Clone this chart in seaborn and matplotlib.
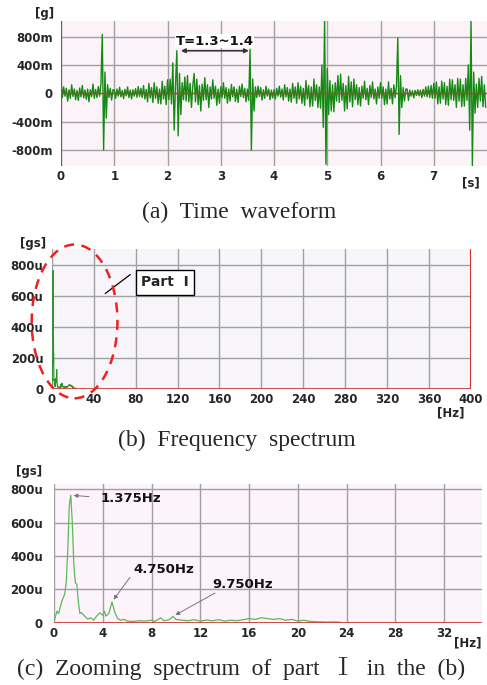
import matplotlib
matplotlib.use("Agg")
import matplotlib.pyplot as plt
import seaborn as sns
import pandas as pd
from matplotlib.patches import Ellipse

# (a) time waveform, one sample every 0.025 s, values in mg
wave_dt = 0.025
wave_mg = [
    180, -60, 90, -40, 70, -110, 50, -70, 120, -45, 60, -90, 40, -100, 75, -50, 110, -65, 45, -85,
    60, -120, 50, -45, 130, -70, 55, -60, 95, -40, 140, 830, -800, 300, -350, 120, -60, 70, -95, 50,
    45, -70, 60, -40, 85, -50, 40, -75, 55, -35, 90, -60, 45, -80, 50, -40, 65, -55, 95, -45,
    70, -60, 110, -80, 55, -120, 140, -65, 80, -130, 150, -70, 90, -140, 60, -150, 170, -80, 100, -160,
    190, -90, 200, -150, 430, -520, 120, 600, -600, 280, -300, 150, -90, 230, -110, 250, -120, 140, -200, 110,
    280, -120, 200, -160, 110, -250, 130, -100, 220, -90, 120, -200, 90, -80, 190, -70, 100, -170, 60, -140,
    90, -60, 150, -70, 80, -140, 60, -110, 125, -50, 90, -115, 55, -130, 100, -45, 130, -60, 70, -120,
    60, -100, 620, -800, 200, -250, 90, -60, 100, -45, 80, -95, 50, -70, 100, -40, 60, -90, 45, -65,
    50, -80, 70, -40, 100, -55, 60, -95, 120, -50, 80, -110, 60, -125, 140, -70, 90, -140, 150, -80,
    100, -140, 70, -170, 180, -80, 110, -190, 90, -180, 200, -100, 120, -200, 90, -210, 400, -480, 1020, -1000,
    350, -300, 180, -250, 120, -260, 150, -110, 250, -130, 270, -100, 140, -250, 110, -220, 240, -120, 160, -190,
    200, -90, 120, -160, 80, -180, 100, -70, 170, -90, 70, -160, 110, -60, 160, -80, 60, -150, 90, -70,
    150, -70, 90, -160, 60, -150, 160, -80, 70, -150, 120, -60, 100, 780, -580, 250, -200, 80, -110, 60,
    60, -100, 45, -40, 35, -65, 40, -30, 50, -35, 45, -60, 55, -40, 90, -50, 100, -60, 110, -70,
    140, -70, 160, -150, 90, -140, 170, -80, 150, -160, 100, -170, 200, -90, 190, -100, 120, -200, 210, -110,
    200, -190, 120, -180, 210, -100, 400, -520, 1020, -1020, 300, -280, 130, -200, 210, -110, 240, -190, 120, -200,
]
wave_time = [i * wave_dt for i in range(len(wave_mg))]

# spectrum (u gs)
spec_hz = [0, 0.125, 0.25, 0.375, 0.5, 0.625, 0.75, 0.875, 1.0, 1.125, 1.25, 1.375, 1.5, 1.625,
           1.75, 1.875, 2.0, 2.125, 2.25, 2.5, 2.75, 3.0, 3.25, 3.5, 3.75, 4.0, 4.125, 4.25, 4.5,
           4.75, 5.0, 5.25, 5.5, 5.75, 6.0, 6.5, 7.0, 7.5, 8.0, 8.25, 8.5, 8.75, 9.0, 9.25, 9.5,
           9.75, 10.0, 10.5, 11.0, 11.5, 12.0, 12.5, 13.0, 13.5, 14.0, 14.5, 15.0, 15.5, 16.0,
           16.5, 17.0, 17.5, 18.0, 18.5, 19.0, 19.5, 20.0, 20.5, 21.0, 21.5, 22.0, 22.5, 23.0, 23.5]
spec_u = [10, 40, 70, 55, 90, 125, 150, 170, 240, 430, 700, 765, 600, 350,
          240, 230, 120, 55, 60, 40, 22, 30, 15, 40, 60, 45, 70, 40, 55,
          125, 60, 22, 15, 20, 10, 8, 12, 10, 15, 8, 18, 30, 12, 15, 20,
          38, 20, 15, 12, 18, 10, 16, 12, 18, 10, 15, 12, 18, 25,
          20, 30, 25, 20, 25, 15, 20, 10, 15, 8, 6, 5, 4, 5, 3]

peak_hz = [1.375, 4.750, 9.750]
peak_u = [765, 125, 38]
peak_labels = ["1.375Hz", "4.750Hz", "9.750Hz"]

wave_df = pd.DataFrame({"t": wave_time, "g": wave_mg})
spec_df = pd.DataFrame({"f": spec_hz, "a": spec_u})

sns.set_style("white")
plt.rcParams["font.family"] = ["DejaVu Sans", "Noto Sans CJK SC"]
plt.rcParams["font.weight"] = "bold"

fig = plt.figure(figsize=(4.87, 6.85), dpi=100)
grid_kw = dict(color="#a0a0a0", linewidth=1.0)
tick_fs = 8.5
serif = ["Liberation Serif", "Noto Serif CJK SC", "Noto Sans CJK SC", "DejaVu Serif"]


def style_axes(ax, bg, ypad=5):
    ax.set_facecolor(bg)
    for s in ax.spines.values():
        s.set_visible(False)
    ax.grid(True, **grid_kw)
    ax.set_axisbelow(True)
    ax.tick_params(length=0, labelsize=tick_fs)
    ax.tick_params(axis="x", pad=3)
    ax.tick_params(axis="y", pad=ypad)
    for lab in ax.get_xticklabels() + ax.get_yticklabels():
        lab.set_fontweight("bold")
    ax.set_xlabel("")
    ax.set_ylabel("")


# (a) time waveform
ax1 = fig.add_axes([0.1253, 0.7577, 0.8747, 0.2117])
sns.lineplot(data=wave_df, x="t", y="g", ax=ax1, color="#148a14", linewidth=1.0, sort=False)
ax1.axhline(0, color="#d03030", linewidth=1.0, zorder=3)
ax1.axvline(0, color="#d03030", linewidth=1.5, zorder=3)
ax1.set_xlim(0, 8)
ax1.set_ylim(-1025, 1020)
ax1.set_xticks(range(0, 8))
ax1.set_yticks([-800, -400, 0, 400, 800])
ax1.set_yticklabels(["-800m", "-400m", "0", "400m", "800m"])
style_axes(ax1, "#fcf3f9", ypad=6)
ax1.annotate("", xy=(2.2, 600), xytext=(3.58, 600), zorder=6,
             arrowprops=dict(arrowstyle="<|-|>", color="#333333", lw=1.2, mutation_scale=6))
ax1.text(2.89, 735, "T=1.3~1.4", ha="center", va="center", fontsize=9.5, fontweight="bold",
         color="#111111", zorder=5, bbox=dict(facecolor="white", edgecolor="none", pad=0.3))
fig.text(35 / 487, 1 - 14 / 685, "[g]", fontsize=tick_fs, fontweight="bold", va="center")
fig.text(462 / 487, 1 - 183 / 685, "[s]", fontsize=tick_fs, fontweight="bold", va="center")
fig.text(0.492, 1 - 212 / 685, "(a)  Time  waveform", fontsize=17, ha="center", va="center",
         family=serif, fontweight="normal")

# (b) frequency spectrum
ax2 = fig.add_axes([0.1062, 0.4321, 0.861, 0.2044])
sns.lineplot(data=spec_df, x="f", y="a", ax=ax2, color="#2a922a", linewidth=0.8, sort=False)
ax2.axhline(0, color="#d03030", linewidth=1.2, zorder=3)
ax2.axvline(400, color="#d03030", linewidth=1.5, zorder=3)
ax2.set_xlim(0, 400)
ax2.set_ylim(0, 905)
ax2.set_xticks(range(0, 401, 40))
ax2.set_yticks([0, 200, 400, 600, 800])
ax2.set_yticklabels(["0", "200u", "400u", "600u", "800u"])
style_axes(ax2, "#f7f5fa", ypad=6)
ell = Ellipse((21.8, 437), 81.8, 994, fill=False, edgecolor="#ee2020", linewidth=1.8,
              linestyle=(0, (4, 3)), clip_on=False, zorder=4)
ax2.add_patch(ell)
ax2.plot([75, 51], [740, 617], color="black", linewidth=0.9)
ax2.text(108, 690, "Part  Ⅰ", ha="center", va="center", fontsize=10, fontweight="bold",
         bbox=dict(boxstyle="square,pad=0.4", facecolor="white", edgecolor="black", linewidth=1))
fig.text(20 / 487, 1 - 244 / 685, "[gs]", fontsize=tick_fs, fontweight="bold", va="center")
fig.text(437 / 487, 1 - 413 / 685, "[Hz]", fontsize=tick_fs, fontweight="bold", va="center")
fig.text(0.487, 1 - 440 / 685, "(b)  Frequency  spectrum", fontsize=17, ha="center", va="center",
         family=serif, fontweight="normal")

# (c) zoomed spectrum
ax3 = fig.add_axes([0.1109, 0.0909, 0.8789, 0.2025])
sns.lineplot(data=spec_df, x="f", y="a", ax=ax3, color="#5cb85c", linewidth=0.9, sort=False)
ax3.axhline(0, color="#d03030", linewidth=1.2, zorder=3)
ax3.set_xlim(0, 35.1)
ax3.set_ylim(0, 832)
ax3.set_xticks(range(0, 33, 4))
ax3.set_yticks([0, 200, 400, 600, 800])
ax3.set_yticklabels(["0", "200u", "400u", "600u", "800u"])
style_axes(ax3, "#fdf3fb", ypad=8)
label_pos = [(3.85, 743), (6.5, 322), (13.0, 232)]
tail_pos = [(3.1, 755), (6.37, 286), (13.4, 186)]
for f, a, lab, (lx, ly), (tx, ty) in zip(peak_hz, peak_u, peak_labels, label_pos, tail_pos):
    ax3.annotate("", xy=(f, a), xytext=(tx, ty),
                 arrowprops=dict(arrowstyle="-|>", color="#777777", lw=0.7, mutation_scale=6))
    ax3.text(lx, ly, lab, ha="left", va="center", fontsize=9.5, fontweight="bold", color="#111111")
fig.text(16 / 487, 1 - 472 / 685, "[gs]", fontsize=tick_fs, fontweight="bold", va="center")
fig.text(454 / 487, 1 - 643 / 685, "[Hz]", fontsize=tick_fs, fontweight="bold", va="center")
fig.text(0.495, 1 - 668 / 685, "(c)  Zooming  spectrum  of  part  Ⅰ  in  the  (b)", fontsize=17,
         ha="center", va="center", family=serif, fontweight="normal")

fig.savefig("out.png", dpi=100, facecolor="white")
